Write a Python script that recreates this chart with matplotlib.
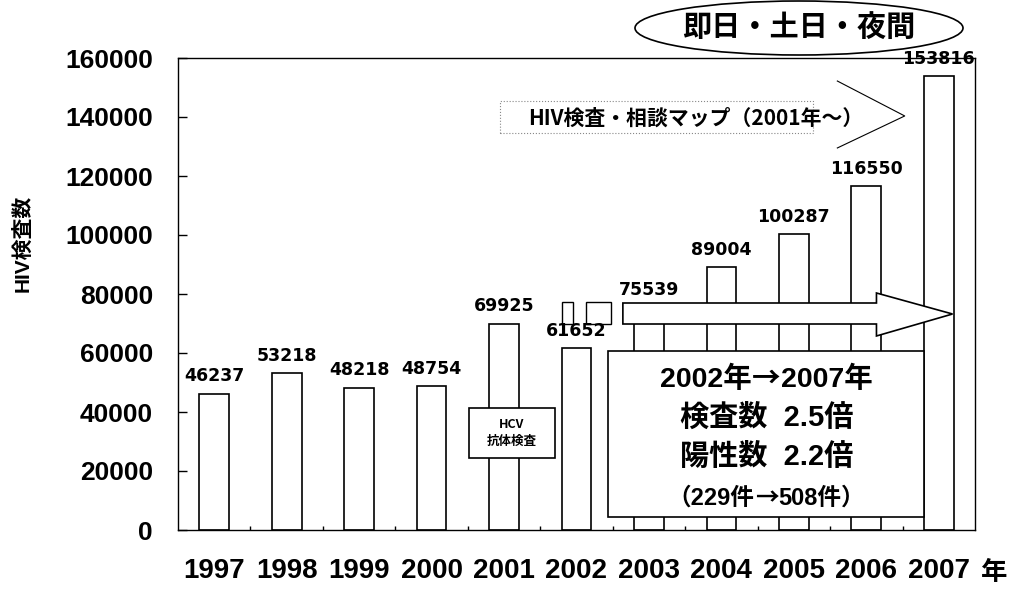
import matplotlib
matplotlib.use("Agg")
import matplotlib.pyplot as plt
from matplotlib import patches
from matplotlib.offsetbox import TextArea, HPacker, AnnotationBbox

years = ['1997', '1998', '1999', '2000', '2001', '2002', '2003', '2004', '2005', '2006', '2007']
tests = [46237, 53218, 48218, 48754, 69925, 61652, 75539, 89004, 100287, 116550, 153816]
yticks = [0, 20000, 40000, 60000, 80000, 100000, 120000, 140000, 160000]

jp = ['Noto Sans CJK JP', 'DejaVu Sans']
mix = ['Liberation Sans', 'Noto Sans CJK JP']

fig = plt.figure(figsize=(10.11, 5.94), dpi=100)
ax = fig.add_axes([178 / 1011, 1 - 530 / 594, 797 / 1011, 472 / 594])

x = list(range(len(years)))
ax.bar(x, tests, width=0.41, color='white', edgecolor='black', linewidth=1.2, zorder=2)
for i, v in zip(x, tests):
    ax.annotate(str(v), (i, v), xytext=(0, 12.5), textcoords='offset points',
                ha='center', va='center', fontsize=12.5, fontweight='bold', zorder=6)

ax.set_xlim(-0.5, 10.5)
ax.set_ylim(0, 160000)
ax.set_xticks(x)
ax.set_xticklabels(years)
ax.set_xticks([i + 0.5 for i in x[:-1]], minor=True)
ax.set_yticks(yticks)
ax.set_yticklabels([str(t) for t in yticks])
ax.tick_params(axis='x', which='major', length=0, pad=20)
ax.tick_params(axis='x', which='minor', direction='in', length=3, width=1)
ax.tick_params(axis='y', direction='in', length=6.5, width=1, pad=18)
for lab in ax.get_xticklabels():
    lab.set_fontweight('bold')
    lab.set_family('Liberation Sans')
    lab.set_fontsize(20)
for lab in ax.get_yticklabels():
    lab.set_fontweight('bold')
    lab.set_family('Liberation Sans')
    lab.set_fontsize(19)
for s in ax.spines.values():
    s.set_linewidth(1.0)

fig.text(22 / 1011, 1 - 243 / 594, 'HIV検査数', rotation=90, ha='center', va='center',
         fontsize=15, fontweight='bold', family=mix)
fig.text(994 / 1011, 1 - 572 / 594, '年', ha='center', va='center',
         fontsize=19, fontweight='bold', family=jp)

# top oval
fig.add_artist(patches.Ellipse((799 / 1011, 1 - 28 / 594), 328 / 1011, 54 / 594,
                               transform=fig.transFigure, fill=False, lw=1.2))
fig.text(799 / 1011, 1 - 27 / 594, '即日・土日・夜間', ha='center', va='center',
         fontsize=21, fontweight='bold', family=jp)

# map label and chevron
ax.add_patch(patches.Rectangle((3.94, 134600), 4.32, 10800, fill=False, ls=':',
                               lw=0.8, edgecolor='#888888', zorder=3))
ax.text(6.64, 139700, 'HIV検査・相談マップ（2001年～）', ha='center', va='center',
        fontsize=15, fontweight='bold', family=jp, zorder=6)
ax.plot([8.60, 9.53, 8.60], [152200, 140350, 129500], color='black', lw=0.8, zorder=3)

# big arrow
arrow = patches.Polygon([(5.64, 76950), (9.14, 76950), (9.14, 80340), (10.19, 73220),
                         (9.14, 65770), (9.14, 69830), (5.64, 69830)],
                        closed=True, facecolor='white', edgecolor='black', lw=1.2, zorder=3)
ax.add_patch(arrow)

# two small boxes near 2002
ax.add_patch(patches.Rectangle((4.80, 69830), 0.15, 7460, facecolor='white',
                               edgecolor='black', lw=1.0, zorder=3))
ax.add_patch(patches.Rectangle((5.13, 69830), 0.34, 7460, facecolor='white',
                               edgecolor='black', lw=1.0, zorder=3))

# HCV box
ax.add_patch(patches.Rectangle((3.51, 24400), 1.19, 16950, facecolor='white',
                               edgecolor='black', lw=1.2, zorder=4))
ax.text(4.105, 32900, 'HCV\n抗体検査', ha='center', va='center', fontsize=9,
        fontweight='bold', family=jp, linespacing=1.3, zorder=5)

# summary box
ax.add_patch(patches.Rectangle((5.44, 4400), 4.36, 56300, facecolor='white',
                               edgecolor='black', lw=1.2, zorder=4))
cx = 7.62


def packed(parts, size, y):
    areas = []
    for txt, fam in parts:
        areas.append(TextArea(txt, textprops=dict(fontsize=size, fontweight='bold', family=fam)))
    box = HPacker(children=areas, align='baseline', pad=0, sep=0)
    ab = AnnotationBbox(box, (cx, y), frameon=False, box_alignment=(0.5, 0.5), pad=0)
    ab.set_zorder(5)
    ax.add_artist(ab)


packed([('2002年', mix), ('→', jp), ('2007年', mix)], 20.5, (530 - 379) * 339)
ax.text(cx, (530 - 418) * 339, '検査数  2.5倍', ha='center', va='center',
        fontsize=21, fontweight='bold', family=mix, zorder=5)
ax.text(cx, (530 - 457) * 339, '陽性数  2.2倍', ha='center', va='center',
        fontsize=21, fontweight='bold', family=mix, zorder=5)
packed([('（229件', mix), ('→', jp), ('508件）', mix)], 17, (530 - 498) * 339)

fig.savefig('out.png', dpi=100)
